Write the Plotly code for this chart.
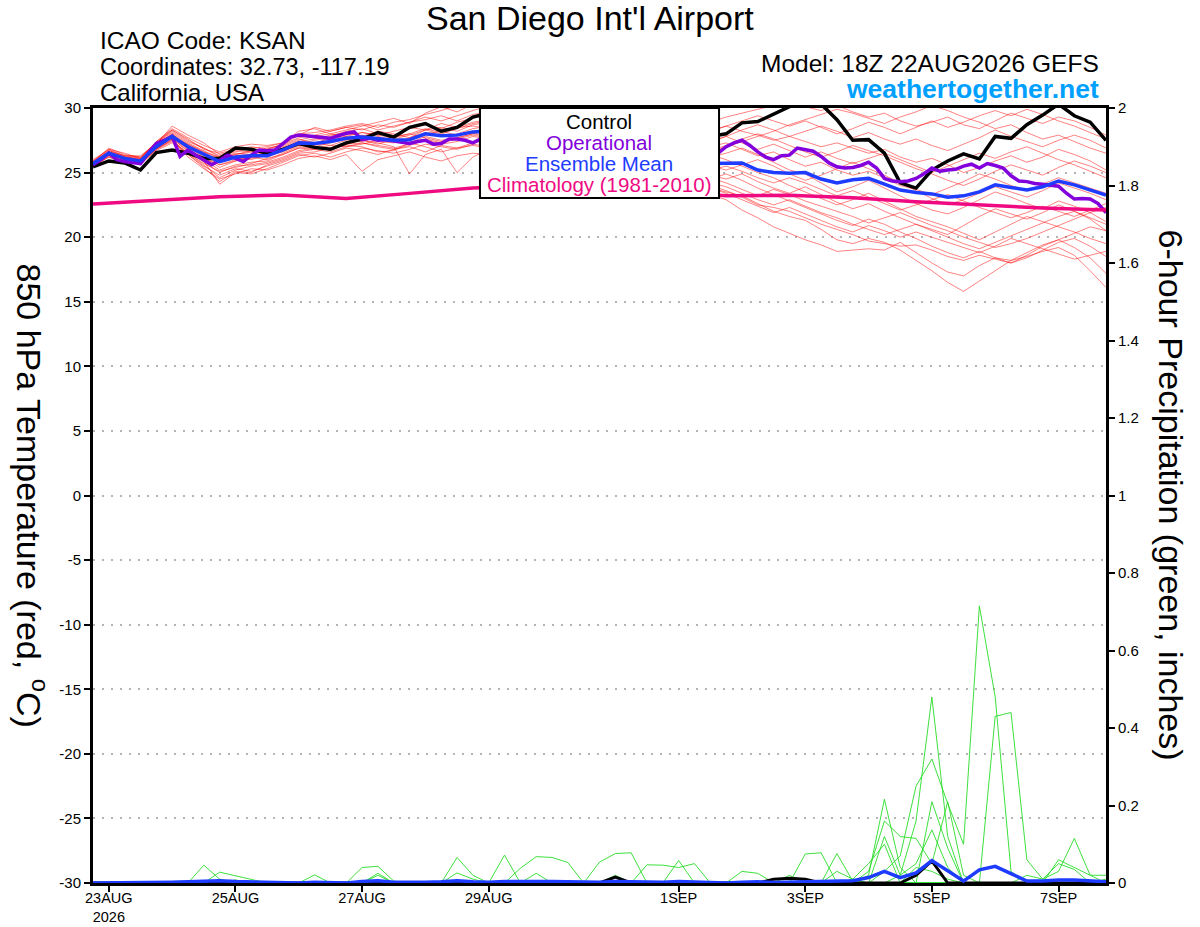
import pandas as pd
import plotly.graph_objects as go

# ---- time axes (GEFS 18Z 22AUG2026 run, 16 days) ----
times = pd.date_range("2026-08-22 18:00", periods=65, freq="6h")
times_op = pd.date_range("2026-08-22 18:00", periods=129, freq="3h")
times_clim = times[::4]

tick_dates = ["2026-08-23", "2026-08-25", "2026-08-27", "2026-08-29",
              "2026-09-01", "2026-09-03", "2026-09-05", "2026-09-07"]
tick_labels = ["23AUG<br>2026", "25AUG", "27AUG", "29AUG", "1SEP", "3SEP", "5SEP", "7SEP"]

temp_ticks = [-30, -25, -20, -15, -10, -5, 0, 5, 10, 15, 20, 25, 30]
temp_tick_labels = ["-30", "-25", "-20", "-15", "-10", "-5", "0", "5", "10", "15", "20", "25", "30"]

# ---- 850 hPa temperature (C) ----
control_t = [25.45, 25.9, 25.75, 25.2, 26.55, 26.75, 26.5, 26.1, 26.1, 26.9, 26.8, 26.5, 26.8,
             27.25, 26.95, 26.8, 27.3, 27.6, 28.1, 27.75, 28.5, 28.8, 28.2, 28.5, 29.3, 29.6,
             30.1, 30.4, 30.5, 30.6, 30.5, 30.2, 29.9, 29.6, 29.3, 29.0, 28.7, 28.4, 28.1,
             27.8, 28.0, 28.85, 28.95, 29.5, 30.1, 30.5, 30.3, 29.1, 27.5, 27.55, 26.5, 24.2,
             23.8, 25.2, 25.9, 26.45, 26.05, 27.8, 27.65, 28.7, 29.45, 30.3, 29.4, 28.9, 27.5]

mean_t = [25.7, 26.5, 26.1, 25.9, 27.0, 27.8, 27.0, 26.4, 25.85, 26.2, 26.3, 26.3, 26.75,
          27.3, 27.25, 27.4, 27.65, 27.75, 27.65, 27.5, 27.55, 28.0, 27.85, 27.9, 28.15, 28.2,
          28.3, 28.1, 28.0, 27.8, 27.6, 27.3, 27.0, 26.8, 26.6, 26.3, 26.1, 26.0, 25.9,
          25.7, 25.7, 25.75, 25.2, 25.0, 24.95, 25.0, 24.5, 24.2, 24.45, 24.55, 24.1, 23.65,
          23.45, 23.35, 23.1, 23.2, 23.5, 24.05, 23.85, 23.65, 23.9, 24.35, 24.05, 23.65, 23.25]

operational_t = [25.6, 26.0, 26.5, 26.0, 25.85, 25.8, 25.7, 26.5, 27.25, 27.5, 27.8, 26.25, 26.75,
                 26.35, 25.95, 25.6, 25.95, 26.35, 26.1, 25.85, 26.35, 26.75, 26.7, 26.75, 27.25,
                 27.75, 27.9, 27.85, 27.75, 27.7, 27.65, 27.85, 28.05, 28.15, 27.55, 27.65, 27.5,
                 27.55, 27.45, 27.35, 27.25, 27.4, 27.5, 27.2, 27.25, 27.6, 27.6, 27.5, 27.3, 27.6,
                 27.8, 27.9, 28.0, 28.1, 28.0, 27.9, 28.1, 28.3, 28.2, 28.0, 27.9, 27.7, 27.8, 27.6,
                 27.5, 27.4, 27.6, 27.5, 27.3, 27.1, 27.2, 27.0, 26.9, 26.8, 26.9, 26.7, 26.6, 26.5,
                 26.4, 26.5, 27.0, 27.3, 27.5, 27.1, 26.6, 26.2, 26.0, 26.3, 26.35, 26.9, 26.8,
                 26.65, 26.25, 25.75, 25.45, 25.35, 25.4, 25.55, 25.8, 25.35, 24.55, 24.35, 24.3,
                 24.35, 24.55, 24.9, 25.35, 25.1, 25.2, 25.25, 25.5, 25.65, 25.35, 25.7, 25.55,
                 25.35, 24.75, 24.35, 24.3, 24.15, 24.1, 24.05, 23.95, 23.4, 22.95, 23.0, 22.95,
                 22.6, 21.9]

climatology_t = [22.57, 22.88, 23.13, 23.26, 23.0, 23.39, 23.8, 24.0, 23.85,
                 23.55, 23.2, 23.25, 23.05, 22.75, 22.5, 22.25, 22.1]

m01 = [25.8, 26.6, 26.2, 26.0, 27.3, 28.2, 27.4, 26.9, 26.3, 26.6, 26.9, 27.0, 27.3,
       28.0, 28.1, 28.3, 28.6, 28.8, 28.5, 28.9, 29.1, 29.5, 29.8, 30.2, 30.4,
       30.5, 30.8, 30.6, 30.3, 30.1, 29.8, 29.9, 29.6, 29.4, 29.7, 29.5, 29.2, 29.4, 29.1, 28.9,
       29.3, 29.6, 29.9, 30.2, 30.4, 30.1, 29.8, 30.2, 29.7, 29.3, 29.6, 29.0, 28.6,
       28.9, 29.3, 28.7, 28.4, 29.0, 29.6, 29.2, 28.8, 29.3, 29.0, 28.5, 27.9]
m02 = [25.6, 26.3, 25.9, 25.8, 26.8, 27.5, 26.5, 25.6, 24.6, 25.2, 25.5, 25.7, 26.1,
       26.6, 26.8, 26.9, 27.2, 27.3, 27.0, 26.8, 27.1, 27.5, 27.2, 27.4, 27.8,
       27.6, 27.9, 27.5, 27.2, 27.0, 26.6, 26.2, 25.8, 25.5, 25.1, 24.8, 24.5, 24.3, 24.0, 23.8,
       23.5, 23.2, 22.6, 22.0, 21.6, 21.3, 20.6, 19.8, 19.5, 19.9, 19.6, 19.0, 18.2,
       17.4, 16.5, 15.8, 16.6, 17.4, 18.2, 18.8, 19.4, 19.8, 19.2, 18.4, 17.2]
m03 = [25.7, 26.4, 26.0, 25.6, 26.9, 27.9, 26.8, 25.9, 24.1, 25.0, 24.9, 25.3, 25.8,
       26.3, 26.5, 26.2, 26.6, 26.9, 26.7, 26.5, 26.8, 27.2, 27.0, 26.8, 27.2,
       27.0, 26.7, 26.4, 26.1, 25.8, 25.4, 25.0, 24.8, 24.5, 24.6, 24.2, 24.0, 23.8, 23.6, 23.3,
       22.9, 22.1, 21.5, 20.8, 20.3, 19.8, 19.4, 18.9, 19.0, 19.1, 19.0, 19.6, 18.8,
       18.0, 17.3, 17.0, 17.8, 18.4, 18.2, 18.5, 18.9, 19.2, 18.6, 17.4, 16.1]
m04 = [25.5, 26.2, 25.7, 25.9, 27.1, 27.6, 26.2, 25.3, 24.5, 24.9, 25.3, 25.2, 25.6,
       26.1, 26.3, 26.0, 26.4, 25.1, 26.0, 26.3, 26.6, 26.2, 25.9, 26.3, 26.5,
       26.4, 26.8, 27.0, 26.7, 26.3, 26.0, 25.7, 25.5, 25.3, 25.6, 25.4, 25.0, 24.7, 24.4, 24.0,
       23.6, 23.1, 22.5, 22.3, 22.0, 21.5, 21.0, 20.6, 20.2, 19.7, 19.5, 19.3, 19.4,
       19.0, 18.5, 18.2, 18.6, 18.3, 18.0, 18.4, 19.0, 19.6, 19.9, 19.3, 18.5]
m05 = [25.9, 26.7, 26.3, 26.1, 27.4, 28.4, 27.7, 27.1, 26.6, 27.0, 27.2, 27.1, 27.3,
       28.2, 28.4, 28.0, 28.3, 28.6, 28.9, 29.2, 28.8, 29.6, 30.1, 29.7, 30.3,
       30.0, 29.6, 29.8, 29.4, 29.1, 28.7, 28.9, 29.2, 28.8, 28.5, 28.9, 28.6, 28.3, 28.5, 28.2,
       28.6, 28.2, 27.9, 27.5, 27.8, 27.4, 27.0, 27.3, 26.9, 26.5, 26.8, 26.2, 25.8,
       26.1, 25.6, 25.0, 25.4, 25.9, 26.3, 25.8, 26.2, 26.8, 26.4, 25.9, 25.2]
m06 = [25.6, 26.5, 26.1, 25.8, 26.9, 27.7, 27.1, 26.5, 25.8, 26.1, 26.0, 26.4, 26.9,
       27.4, 27.6, 27.9, 28.1, 27.8, 28.2, 28.0, 27.7, 28.3, 28.5, 28.2, 28.7,
       28.9, 29.2, 29.0, 28.6, 28.3, 28.0, 27.6, 27.3, 27.5, 27.1, 26.8, 26.5, 26.9, 26.6, 26.2,
       26.5, 26.9, 26.4, 25.8, 25.2, 24.9, 24.2, 23.5, 23.9, 24.4, 23.8, 23.2, 22.6,
       22.1, 21.8, 22.3, 22.9, 23.5, 23.1, 22.6, 22.2, 22.8, 22.4, 21.9, 21.2]
m07 = [25.8, 26.9, 26.4, 26.2, 27.2, 28.6, 27.9, 27.3, 26.4, 26.7, 26.6, 26.9, 27.1,
       27.6, 27.2, 27.8, 28.2, 28.4, 28.0, 27.9, 28.4, 28.7, 28.4, 28.9, 29.2,
       29.5, 29.3, 28.9, 28.5, 28.6, 28.2, 27.8, 27.9, 27.6, 27.2, 27.4, 27.0, 26.7, 26.9, 26.6,
       27.0, 27.4, 27.8, 28.2, 28.7, 29.1, 29.5, 29.9, 29.6, 29.2, 28.8, 29.3, 29.7,
       30.2, 29.8, 29.3, 28.9, 28.4, 28.7, 28.1, 27.6, 27.9, 27.4, 26.9, 26.5]
m08 = [25.7, 26.6, 26.2, 26.0, 27.0, 27.9, 26.9, 26.2, 25.4, 25.9, 26.2, 26.0, 26.5,
       27.0, 27.3, 27.1, 27.5, 27.8, 27.4, 27.3, 27.7, 28.1, 27.8, 28.0, 28.4,
       28.6, 28.3, 28.0, 27.6, 27.4, 27.1, 26.8, 26.4, 26.2, 25.9, 25.6, 25.3, 25.5, 25.2, 24.8,
       24.5, 24.9, 24.3, 23.8, 23.4, 23.9, 23.3, 22.7, 22.2, 22.6, 22.0, 21.5, 21.0,
       20.6, 20.2, 20.9, 21.6, 22.2, 21.8, 21.4, 21.9, 22.5, 22.0, 21.4, 20.5]
m09 = [25.6, 26.4, 26.0, 25.7, 27.0, 27.7, 26.6, 26.0, 25.2, 25.6, 25.8, 25.9, 26.4,
       26.9, 27.0, 26.7, 27.2, 27.5, 27.3, 27.0, 24.9, 26.4, 26.8, 25.0, 26.2,
       26.8, 27.3, 27.6, 27.9, 28.2, 28.0, 27.7, 27.5, 27.8, 27.4, 27.1, 26.8, 27.0, 26.7, 26.4,
       26.0, 25.5, 25.0, 24.6, 24.0, 23.5, 23.0, 22.5, 22.9, 23.4, 22.8, 22.2, 21.6,
       21.2, 20.8, 20.3, 19.8, 20.4, 21.0, 21.6, 21.2, 20.8, 20.4, 19.9, 19.5]
m10 = [25.8, 26.7, 26.3, 26.3, 27.3, 28.1, 27.3, 26.7, 26.1, 26.4, 26.6, 26.7, 27.0,
       27.5, 27.8, 28.0, 27.8, 28.1, 27.9, 28.2, 28.5, 28.3, 28.8, 28.5, 28.9,
       29.1, 28.8, 28.5, 28.7, 28.4, 28.1, 27.8, 28.0, 27.7, 27.5, 27.2, 27.4, 27.1, 26.8, 27.0,
       27.3, 26.8, 26.3, 26.6, 26.0, 25.5, 25.8, 25.2, 24.8, 25.1, 24.6, 24.0, 23.7,
       23.3, 23.8, 24.3, 24.9, 24.5, 24.0, 23.6, 24.1, 24.6, 24.2, 23.8, 23.4]
m11 = [25.5, 26.3, 25.8, 25.7, 26.7, 27.3, 26.4, 25.5, 24.8, 25.3, 25.1, 25.5, 25.9,
       26.4, 26.2, 26.5, 26.9, 26.7, 26.4, 26.8, 27.0, 26.6, 27.1, 26.9, 27.3,
       27.5, 27.1, 26.8, 26.5, 26.7, 26.3, 26.0, 25.7, 25.9, 25.5, 25.2, 25.4, 25.0, 24.8, 24.5,
       24.9, 24.4, 23.8, 23.3, 22.8, 22.3, 21.8, 21.3, 20.9, 21.4, 21.0, 20.4, 19.9,
       19.3, 18.8, 18.4, 18.9, 18.4, 18.0, 18.6, 19.3, 19.8, 20.3, 20.8, 20.5]
m12 = [25.7, 26.5, 26.1, 25.9, 27.0, 27.8, 27.2, 26.6, 26.0, 26.3, 26.4, 26.5, 26.8,
       27.3, 27.1, 27.4, 27.7, 27.9, 27.6, 27.4, 27.6, 28.0, 28.2, 27.9, 28.1,
       28.4, 28.6, 28.8, 28.5, 28.2, 27.9, 27.5, 27.2, 26.9, 27.1, 26.8, 26.4, 26.1, 25.8, 25.5,
       25.2, 25.6, 26.0, 25.5, 24.9, 24.4, 24.8, 25.3, 25.8, 25.3, 24.8, 24.2, 23.6,
       23.0, 22.5, 22.9, 23.4, 23.9, 23.5, 23.1, 23.6, 24.2, 23.8, 23.4, 22.9]
m13 = [26.0, 26.8, 26.5, 26.1, 27.4, 28.3, 27.6, 26.8, 26.5, 26.8, 27.0, 26.8, 27.2,
       27.9, 28.5, 28.2, 28.5, 28.3, 28.7, 28.5, 28.9, 29.3, 29.0, 29.4, 29.8,
       30.2, 30.0, 29.7, 29.5, 29.8, 29.5, 29.2, 28.9, 29.1, 28.8, 28.5, 28.2, 28.0, 27.7, 27.4,
       27.8, 28.3, 28.7, 28.3, 27.8, 28.2, 28.6, 28.2, 27.7, 28.1, 27.6, 27.2, 27.6,
       27.1, 26.7, 27.2, 27.7, 28.3, 27.8, 27.4, 27.0, 27.5, 27.9, 27.5, 26.9]
m14 = [25.6, 26.4, 26.0, 25.6, 26.8, 27.6, 26.7, 25.8, 25.0, 25.5, 25.6, 25.8, 26.2,
       26.7, 26.9, 27.1, 27.0, 27.3, 27.1, 26.9, 27.2, 27.6, 27.3, 27.6, 27.9,
       27.7, 27.5, 27.2, 26.9, 26.6, 26.8, 26.5, 26.2, 25.9, 25.6, 25.9, 25.6, 25.3, 25.0, 24.6,
       24.2, 23.7, 23.2, 23.7, 23.3, 22.8, 22.4, 22.0, 21.6, 21.1, 21.5, 21.9, 21.4,
       20.9, 20.5, 20.0, 19.6, 19.2, 19.5, 19.9, 20.4, 20.9, 21.4, 21.9, 22.3]
m15 = [25.8, 26.6, 26.2, 26.0, 27.1, 28.0, 27.2, 26.6, 26.2, 26.5, 26.4, 26.2, 26.7,
       27.2, 27.5, 27.7, 27.9, 28.1, 27.9, 27.7, 28.0, 28.4, 28.1, 28.5, 28.6,
       28.4, 28.1, 27.9, 28.2, 28.0, 27.7, 27.9, 27.6, 27.3, 27.0, 27.3, 27.0, 26.7, 26.4, 26.7,
       27.1, 27.6, 28.0, 27.6, 27.1, 26.6, 26.2, 26.6, 27.1, 26.7, 26.3, 25.8, 25.3,
       24.9, 24.4, 24.0, 24.5, 25.1, 25.6, 25.2, 24.8, 25.4, 25.9, 25.5, 25.0]
m16 = [25.5, 26.2, 25.9, 25.8, 26.8, 27.4, 26.5, 25.7, 25.1, 25.4, 25.7, 26.1, 26.4,
       26.9, 26.8, 26.6, 27.0, 27.2, 27.5, 27.8, 28.0, 27.7, 27.4, 27.7, 28.0,
       28.2, 28.0, 27.7, 27.4, 27.1, 26.8, 26.5, 26.2, 26.0, 25.7, 25.4, 25.1, 24.8, 24.5, 24.2,
       23.9, 23.4, 22.9, 22.5, 22.9, 22.4, 21.9, 21.5, 21.0, 20.6, 20.2, 20.6, 21.0,
       20.5, 20.0, 19.5, 19.1, 19.6, 20.1, 20.6, 21.1, 21.6, 22.0, 21.5, 21.0]
m17 = [25.9, 26.8, 26.3, 26.2, 27.3, 28.3, 27.5, 26.9, 26.2, 26.4, 26.7, 26.8, 27.2,
       27.7, 27.9, 28.2, 28.5, 28.7, 28.3, 28.6, 28.9, 29.1, 29.4, 29.0, 29.5,
       29.7, 29.9, 30.2, 29.9, 29.6, 29.2, 28.9, 28.6, 28.3, 28.0, 28.3, 28.0, 27.6, 27.9, 28.2,
       28.6, 29.0, 29.4, 29.0, 28.6, 29.0, 28.5, 28.0, 28.4, 28.9, 28.5, 28.0, 28.5,
       29.0, 28.5, 28.9, 29.4, 29.8, 29.4, 29.9, 29.5, 29.0, 28.6, 28.1, 27.6]
m18 = [25.6, 26.5, 26.0, 25.9, 26.9, 27.7, 26.8, 26.1, 25.6, 25.9, 26.1, 26.3, 26.6,
       27.1, 27.0, 27.3, 27.6, 27.4, 27.8, 27.5, 27.3, 27.8, 27.5, 27.7, 28.0,
       27.8, 27.5, 27.2, 27.4, 27.1, 26.8, 26.5, 26.7, 26.4, 26.1, 25.8, 25.5, 25.8, 25.5, 25.2,
       25.5, 25.1, 24.6, 24.2, 24.6, 24.2, 23.7, 23.2, 23.6, 23.1, 22.6, 22.1, 22.5,
       22.9, 23.3, 22.8, 22.3, 21.9, 21.5, 21.9, 22.4, 22.0, 21.6, 22.1, 22.6]
m19 = [25.7, 26.6, 26.2, 26.1, 27.2, 28.0, 27.0, 26.3, 25.6, 26.0, 26.2, 26.4, 26.9,
       27.4, 27.3, 27.6, 27.8, 27.5, 27.2, 27.6, 27.9, 28.3, 28.0, 28.4, 28.8,
       29.0, 28.7, 28.4, 28.6, 28.8, 28.4, 28.1, 27.8, 28.0, 27.7, 27.4, 27.6, 27.3, 27.0, 27.4,
       27.8, 27.3, 26.8, 27.2, 26.7, 26.2, 26.6, 26.1, 25.7, 26.1, 26.5, 26.0, 25.5,
       25.0, 25.5, 26.0, 26.5, 26.1, 26.6, 27.0, 26.5, 26.0, 25.6, 25.1, 24.6]
m20 = [25.6, 26.4, 26.1, 25.8, 26.9, 27.5, 26.4, 25.4, 24.3, 25.1, 25.0, 25.6, 26.0,
       26.5, 26.6, 26.9, 27.1, 27.0, 26.6, 26.7, 27.3, 27.0, 26.6, 26.9, 27.1,
       26.9, 27.2, 26.9, 26.6, 26.3, 26.0, 25.7, 25.4, 25.1, 24.8, 24.5, 24.2, 24.4, 24.1, 23.8,
       23.4, 22.9, 22.4, 21.9, 22.3, 21.8, 21.3, 20.8, 20.4, 20.9, 20.5, 20.0, 20.4,
       20.0, 19.6, 19.2, 18.8, 19.3, 19.9, 19.5, 19.1, 18.7, 18.3, 18.6, 18.9]

members_t = [m01, m02, m03, m04, m05, m06, m07, m08, m09, m10,
             m11, m12, m13, m14, m15, m16, m17, m18, m19, m20]

# ---- 6-hour precipitation (inches) ----
g01 = [0, 0, 0, 0, 0, 0, 0, 0, 0, 0, 0, 0, 0,
       0, 0, 0, 0, 0, 0, 0, 0, 0, 0, 0, 0, 0,
       0, 0, 0, 0, 0, 0, 0, 0, 0, 0, 0, 0, 0,
       0, 0, 0, 0, 0, 0, 0, 0, 0, 0, 0, 0.03, 0.07,
       0.25, 0.32, 0.205, 0.10, 0.715, 0.48, 0.03, 0, 0, 0, 0, 0, 0]
g02 = [0, 0, 0, 0, 0, 0, 0, 0, 0, 0, 0, 0, 0,
       0, 0, 0, 0, 0, 0, 0, 0, 0, 0, 0, 0, 0,
       0, 0, 0, 0, 0, 0, 0, 0, 0, 0, 0, 0, 0,
       0, 0, 0, 0, 0, 0, 0, 0, 0, 0, 0, 0, 0.02,
       0.16, 0.48, 0.12, 0, 0, 0, 0, 0, 0, 0, 0, 0, 0]
g03 = [0, 0, 0, 0, 0, 0, 0, 0, 0, 0, 0, 0, 0,
       0, 0, 0, 0, 0, 0, 0, 0, 0, 0, 0, 0, 0,
       0, 0, 0, 0, 0, 0, 0, 0, 0, 0, 0, 0, 0,
       0, 0, 0, 0, 0, 0, 0, 0, 0, 0, 0, 0, 0,
       0, 0, 0, 0, 0, 0.43, 0.44, 0.06, 0.01, 0.03, 0.115, 0.02, 0]
g04 = [0, 0, 0, 0, 0, 0, 0, 0, 0, 0, 0, 0, 0,
       0, 0, 0, 0, 0, 0, 0, 0, 0, 0, 0, 0, 0,
       0, 0, 0, 0, 0, 0, 0, 0, 0, 0, 0, 0, 0,
       0, 0, 0, 0, 0, 0, 0, 0, 0, 0, 0.02, 0.216, 0.04,
       0, 0.21, 0.09, 0, 0, 0, 0, 0, 0, 0, 0, 0, 0]
g05 = [0, 0, 0, 0, 0, 0, 0, 0, 0, 0, 0, 0, 0,
       0, 0, 0, 0, 0, 0, 0, 0, 0, 0, 0, 0, 0,
       0, 0, 0, 0, 0, 0, 0, 0, 0, 0, 0, 0, 0,
       0, 0, 0, 0, 0, 0, 0, 0, 0, 0, 0.03, 0.16, 0.12,
       0.115, 0.05, 0.21, 0.02, 0, 0, 0, 0, 0, 0, 0, 0, 0]
g06 = [0, 0, 0, 0, 0, 0, 0, 0, 0, 0, 0, 0, 0,
       0, 0, 0, 0, 0, 0, 0, 0, 0, 0, 0, 0, 0,
       0, 0, 0, 0, 0, 0, 0, 0, 0, 0, 0, 0, 0,
       0, 0, 0, 0, 0, 0, 0, 0, 0, 0, 0, 0.12, 0.02,
       0.05, 0.137, 0.04, 0, 0, 0, 0, 0, 0, 0, 0, 0, 0]
g07 = [0, 0, 0, 0, 0, 0, 0, 0, 0, 0, 0, 0, 0,
       0, 0, 0, 0, 0, 0, 0, 0, 0, 0, 0, 0, 0,
       0, 0, 0, 0, 0, 0, 0, 0, 0, 0, 0, 0, 0,
       0, 0, 0, 0, 0, 0, 0, 0, 0, 0.01, 0.05, 0.10, 0,
       0.04, 0.03, 0.01, 0, 0, 0, 0, 0, 0, 0, 0, 0, 0]
g08 = [0, 0, 0, 0, 0, 0, 0, 0, 0, 0, 0, 0, 0,
       0, 0, 0, 0, 0, 0, 0, 0, 0, 0, 0, 0, 0,
       0, 0, 0, 0, 0, 0, 0, 0, 0, 0, 0, 0, 0,
       0, 0, 0, 0, 0, 0, 0, 0, 0.076, 0.005, 0, 0, 0,
       0, 0, 0, 0, 0, 0, 0, 0, 0, 0.06, 0.04, 0.02, 0.02]
g09 = [0, 0, 0, 0, 0, 0, 0, 0, 0, 0, 0, 0, 0,
       0, 0, 0, 0, 0, 0, 0, 0, 0, 0, 0, 0, 0,
       0, 0, 0, 0, 0, 0, 0, 0, 0, 0, 0, 0, 0,
       0, 0, 0, 0, 0, 0, 0, 0, 0, 0, 0, 0, 0,
       0, 0, 0, 0, 0, 0, 0, 0.02, 0.01, 0.05, 0.035, 0, 0.01]
g10 = [0, 0, 0, 0, 0, 0, 0, 0.046, 0.01, 0, 0, 0, 0,
       0, 0, 0, 0, 0.04, 0.043, 0.005, 0, 0, 0, 0, 0, 0,
       0.072, 0, 0, 0, 0, 0, 0.054, 0.076, 0.078, 0, 0, 0, 0,
       0, 0, 0.03, 0.025, 0, 0, 0, 0, 0, 0, 0, 0, 0,
       0, 0, 0, 0, 0, 0, 0, 0, 0, 0, 0, 0, 0]
g11 = [0, 0, 0, 0, 0, 0, 0, 0, 0.028, 0.019, 0.011, 0, 0,
       0, 0.021, 0, 0, 0, 0.025, 0, 0, 0, 0, 0.066, 0.02, 0,
       0, 0.038, 0.068, 0.066, 0.053, 0, 0, 0, 0, 0, 0, 0.058, 0,
       0, 0, 0, 0, 0, 0, 0.075, 0.078, 0, 0, 0, 0, 0,
       0, 0, 0, 0, 0, 0, 0, 0, 0, 0, 0, 0, 0]
g12 = [0, 0, 0, 0, 0, 0.004, 0.005, 0, 0, 0.008, 0, 0, 0,
       0, 0, 0, 0, 0, 0.02, 0, 0, 0, 0, 0.026, 0.01, 0,
       0, 0, 0.025, 0, 0, 0, 0, 0.02, 0, 0.047, 0.046, 0.04, 0.05,
       0, 0, 0, 0, 0, 0.02, 0, 0, 0.03, 0.01, 0, 0, 0,
       0, 0, 0, 0, 0, 0, 0, 0, 0, 0, 0, 0, 0]

members_p = [g01, g02, g03, g04, g05, g06, g07, g08, g09, g10, g11, g12]

control_p = [0, 0, 0, 0, 0, 0, 0, 0, 0, 0, 0, 0, 0,
             0, 0, 0, 0, 0, 0, 0, 0, 0, 0, 0, 0, 0,
             0, 0, 0, 0, 0, 0, 0, 0.015, 0, 0, 0, 0, 0,
             0, 0, 0, 0, 0.01, 0.012, 0.01, 0, 0, 0, 0, 0, 0,
             0.02, 0.057, 0, 0, 0, 0, 0, 0, 0, 0, 0, 0, 0]
mean_p = [0, 0, 0, 0, 0, 0.002, 0.003, 0.005, 0.006, 0.004, 0.003, 0.001, 0,
          0, 0.002, 0.001, 0, 0.004, 0.006, 0.002, 0.001, 0.002, 0.003, 0.006, 0.003, 0.002,
          0.004, 0.003, 0.004, 0.004, 0.003, 0.001, 0.002, 0.004, 0.003, 0.002, 0.002, 0.004, 0.003,
          0.001, 0, 0.002, 0.003, 0.001, 0.002, 0.005, 0.006, 0.006, 0.006, 0.014, 0.03, 0.014,
          0.026, 0.058, 0.032, 0.005, 0.034, 0.043, 0.024, 0.005, 0.005, 0.008, 0.008, 0.005, 0.003]

RED = "rgba(255,0,0,0.55)"
GREEN = "rgb(40,220,40)"
PURPLE = "#8200DC"
BLUE = "#1E3CFF"
PINK = "#F00A82"
FONT = "Liberation Sans, Arial, sans-serif"

fig = go.Figure()

for m in members_t:
    fig.add_trace(go.Scatter(x=times, y=m, mode="lines",
                             line=dict(color=RED, width=0.9), hoverinfo="skip"))

for g in members_p:
    fig.add_trace(go.Scatter(x=times, y=g, mode="lines", yaxis="y2",
                             line=dict(color=GREEN, width=0.9), hoverinfo="skip"))

fig.add_trace(go.Scatter(x=times, y=control_p, mode="lines", yaxis="y2",
                         line=dict(color="black", width=3)))
fig.add_trace(go.Scatter(x=times, y=mean_p, mode="lines", yaxis="y2",
                         line=dict(color=BLUE, width=3.5)))

fig.add_trace(go.Scatter(x=times, y=control_t, mode="lines", name="Control",
                         line=dict(color="black", width=3.5)))
fig.add_trace(go.Scatter(x=times_op, y=operational_t, mode="lines", name="Operational",
                         line=dict(color=PURPLE, width=3.5)))
fig.add_trace(go.Scatter(x=times, y=mean_t, mode="lines", name="Ensemble Mean",
                         line=dict(color=BLUE, width=3.5)))
fig.add_trace(go.Scatter(x=times_clim, y=climatology_t, mode="lines", name="Climatology",
                         line=dict(color=PINK, width=3.5)))

# legend box drawn over the lines
fig.add_shape(type="rect", xref="paper", yref="paper", x0=0.382, x1=0.618, y0=0.884, y1=1.0,
              fillcolor="white", line=dict(color="black", width=2), layer="above")

legend_items = [("Control", "black", 0.983), ("Operational", PURPLE, 0.956),
                ("Ensemble Mean", BLUE, 0.929), ("Climatology (1981-2010)", PINK, 0.901)]
for txt, col, yy in legend_items:
    fig.add_annotation(text=txt, x=0.4995, y=yy, xref="paper", yref="paper", showarrow=False,
                       xanchor="center", yanchor="middle",
                       font=dict(size=20.5, color=col, family=FONT))

header = [
    ("San Diego Int'l Airport", 0.4906, 1.116, "center", 34),
    ("ICAO Code: KSAN", 0.005, 1.0877, "left", 24.5),
    ("Coordinates: 32.73, -117.19", 0.005, 1.0529, "left", 23.5),
    ("California, USA", 0.005, 1.0194, "left", 24),
    ("Model: 18Z 22AUG2026 GEFS", 0.995, 1.0568, "right", 24.5),
]
for txt, xx, yy, anc, sz in header:
    fig.add_annotation(text=txt, x=xx, y=yy, xref="paper", yref="paper", showarrow=False,
                       xanchor=anc, yanchor="middle", font=dict(size=sz, color="black", family=FONT))
fig.add_annotation(text="<b>weathertogether.net</b>", x=0.995, y=1.0245, xref="paper", yref="paper",
                   showarrow=False, xanchor="right", yanchor="middle",
                   font=dict(size=26.5, color="#00A0FF", family=FONT))

# axis titles (both read top to bottom)
fig.add_annotation(text="850 hPa Temperature (red, <sup>o</sup>C)", x=-0.0602, y=0.5,
                   xref="paper", yref="paper", showarrow=False, textangle=90,
                   xanchor="center", yanchor="middle",
                   font=dict(size=34, color="black", family=FONT))
fig.add_annotation(text="6-hour Precipitation (green, inches)", x=1.0651, y=0.5,
                   xref="paper", yref="paper", showarrow=False, textangle=90,
                   xanchor="center", yanchor="middle",
                   font=dict(size=34, color="black", family=FONT))

fig.update_layout(
    width=1200, height=927, autosize=False,
    margin=dict(l=93, r=94, t=108, b=44),
    paper_bgcolor="white", plot_bgcolor="white",
    showlegend=False,
    font=dict(family=FONT, color="black"),
    xaxis=dict(
        type="date", range=[times[0], times[-1]], automargin=False,
        tickvals=tick_dates, ticktext=tick_labels,
        ticks="outside", ticklen=6, tickwidth=1.5, tickcolor="black",
        ticklabelstandoff=-6,
        showline=True, linewidth=3, linecolor="black", mirror=True,
        showgrid=False, zeroline=False, tickfont=dict(size=14.5),
    ),
    yaxis=dict(
        range=[-30, 30], tickvals=temp_ticks, ticktext=temp_tick_labels, automargin=False,
        ticks="outside", ticklen=6, tickwidth=1.5, tickcolor="black",
        showline=True, linewidth=3, linecolor="black", mirror=True,
        showgrid=True, gridcolor="#b4b4b4", gridwidth=1.5, griddash="2px,7px",
        zeroline=False, tickfont=dict(size=15),
    ),
    yaxis2=dict(
        overlaying="y", side="right", range=[0, 2], tick0=0, dtick=0.2, automargin=False,
        ticks="outside", ticklen=6, tickwidth=1.5, tickcolor="black",
        showline=True, linewidth=3, linecolor="black",
        showgrid=False, zeroline=False, tickfont=dict(size=15),
    ),
)

# page body has a default 8px margin; drop it so the figure sits at the window corner
fig.write_html("out.html", config={"displayModeBar": False},
               post_script="document.body.style.margin='0px';")
